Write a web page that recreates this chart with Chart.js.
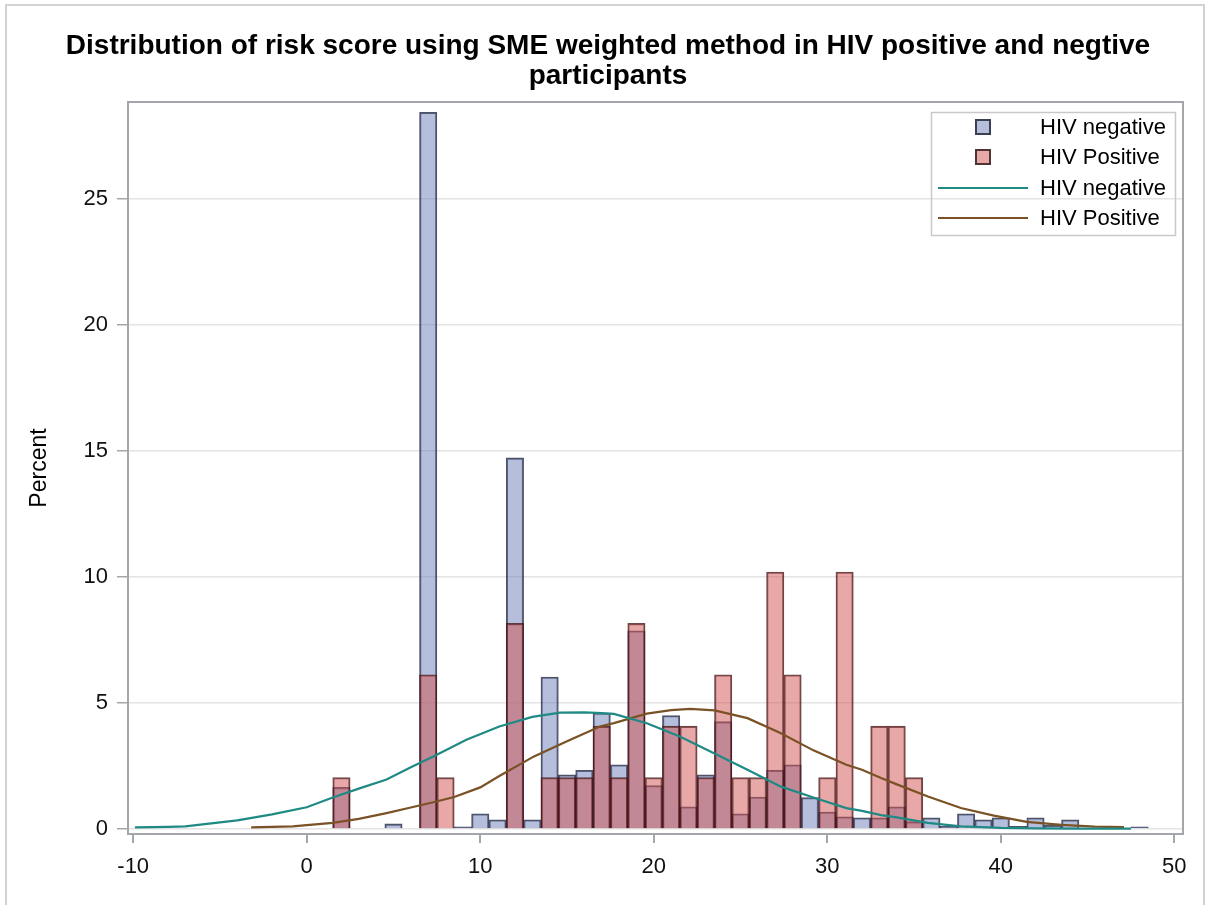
<!DOCTYPE html>
<html><head><meta charset="utf-8">
<script src="https://cdn.jsdelivr.net/npm/chart.js@4.4.1/dist/chart.umd.min.js"></script>
<style>html,body{margin:0;padding:0;background:#fff;}#wrap{position:relative;width:1210px;height:905px;}</style>
</head><body><div id="wrap"><canvas id="c" width="1210" height="905"></canvas></div>
<script>
// ---- data ----
const chartTitle = ['Distribution of risk score using SME weighted method in HIV positive and negtive', 'participants'];
const yAxisTitle = 'Percent';
const xTickValues = [-10, 0, 10, 20, 30, 40, 50];
const yTickValues = [0, 5, 10, 15, 20, 25];
const legendLabels = ['HIV negative', 'HIV Positive', 'HIV negative', 'HIV Positive'];

// histogram bins (score) and percentages
const negBins = [2, 5, 7, 9, 10, 11, 12, 13, 14, 15, 16, 17, 18, 19, 20, 21, 22, 23, 24, 25, 26, 27, 28, 29, 30, 31, 32, 33, 34, 35, 36, 37, 38, 39, 40, 41, 42, 43, 44, 48];
const negPct  = [1.65, 0.2, 28.45, 0.08, 0.6, 0.36, 14.73, 0.36, 6.03, 2.15, 2.33, 4.6, 2.55, 7.87, 1.72, 4.5, 0.88, 2.15, 4.26, 0.6, 1.27, 2.33, 2.55, 1.25, 0.67, 0.48, 0.44, 0.44, 0.88, 0.29, 0.44, 0.1, 0.6, 0.36, 0.44, 0.1, 0.44, 0.15, 0.36, 0.08];
const posBins = [2, 7, 8, 12, 14, 15, 16, 17, 18, 19, 20, 21, 22, 23, 24, 25, 26, 27, 28, 30, 31, 33, 34, 35];
const posPct  = [2.04, 6.12, 2.04, 8.16, 2.04, 2.04, 2.04, 4.08, 2.04, 8.16, 2.04, 4.08, 4.08, 2.04, 6.12, 2.04, 2.04, 10.2, 6.12, 2.04, 10.2, 4.08, 4.08, 2.04];

// fitted density curves
const negCurveX = [-9.9, -8, -7, -6, -4, -2, 0, 1.5, 3, 4.6, 6, 7.3, 9.2, 11.1, 13, 14.6, 16, 17, 17.7, 19.6, 21.5, 23.5, 25.4, 27.3, 29.2, 31.1, 32, 33.1, 34, 35.8, 37.7, 40, 42, 44, 46, 47.5];
const negCurveY = [0.06, 0.08, 0.1, 0.18, 0.34, 0.58, 0.86, 1.25, 1.6, 1.96, 2.45, 2.88, 3.54, 4.07, 4.45, 4.62, 4.63, 4.6, 4.57, 4.2, 3.67, 3.0, 2.35, 1.69, 1.25, 0.83, 0.72, 0.55, 0.46, 0.24, 0.1, 0.04, 0.02, 0.01, 0.01, 0.01];
const posCurveX = [-3.2, -0.8, 0, 1.5, 3, 4.6, 6, 7.3, 8.5, 10, 11.1, 13.1, 15, 16.9, 17.7, 19.6, 21, 22.1, 23.5, 25.4, 27.3, 29.2, 31.1, 32, 33.1, 33.9, 35.8, 37.7, 39.6, 41.5, 43.5, 45.4, 47.1];
const posCurveY = [0.06, 0.1, 0.15, 0.24, 0.4, 0.63, 0.85, 1.06, 1.27, 1.65, 2.1, 2.88, 3.48, 4.07, 4.2, 4.58, 4.72, 4.77, 4.71, 4.4, 3.81, 3.12, 2.55, 2.35, 2.02, 1.8, 1.29, 0.83, 0.53, 0.28, 0.16, 0.09, 0.07];

// ---- styles ----
const FONT = "'Liberation Sans', Arial, sans-serif";
const negFill = 'rgba(107,125,183,0.5)';
const posFill = 'rgba(209,81,81,0.5)';
const negEdge = 'rgba(30,34,60,0.78)';
const posEdge = 'rgba(65,20,20,0.78)';
const negLine = '#1f8a84';
const posLine = '#7a5225';
const axisGrey = '#a3a7ab';

const pts = (xs, ys) => xs.map((x, i) => ({x: x, y: ys[i]}));

const framePlugin = {
  id: 'frame',
  beforeDraw(chart) {
    const ctx = chart.ctx;
    ctx.save();
    ctx.fillStyle = '#fff';
    ctx.fillRect(0, 0, chart.width, chart.height);
    ctx.strokeStyle = '#d2d2d2';
    ctx.lineWidth = 2;
    ctx.strokeRect(6, 5, 1198, 910);
    ctx.restore();
  },
  afterDraw(chart) {
    const a = chart.chartArea, ctx = chart.ctx;
    ctx.save();
    ctx.strokeStyle = axisGrey;
    ctx.lineWidth = 2;
    ctx.strokeRect(a.left, a.top, a.right - a.left, a.bottom - a.top);
    // legend
    const bx = 931, by = 112, bw = 244, bh = 123;
    ctx.strokeStyle = '#c9c9c9';
    ctx.lineWidth = 1.5;
    ctx.strokeRect(bx + 0.5, by + 0.5, bw, bh);
    const rows = [127, 157, 188, 218];
    ctx.font = '22px ' + FONT;
    ctx.textBaseline = 'middle';
    ctx.textAlign = 'left';
    const fills = ['rgb(181,190,219)', 'rgb(232,168,168)'];
    const edges = ['#3c4054', '#4e3434'];
    for (let i = 0; i < 4; i++) {
      const y = rows[i];
      if (i < 2) {
        ctx.fillStyle = fills[i];
        ctx.fillRect(976, y - 7, 14, 14);
        ctx.strokeStyle = edges[i];
        ctx.lineWidth = 2;
        ctx.strokeRect(976, y - 7, 14, 14);
      } else {
        ctx.strokeStyle = i === 2 ? negLine : posLine;
        ctx.lineWidth = 2;
        ctx.beginPath();
        ctx.moveTo(938, y);
        ctx.lineTo(1028, y);
        ctx.stroke();
      }
      ctx.fillStyle = '#000';
      ctx.fillText(legendLabels[i], 1040, y + 1);
    }
    ctx.restore();
  }
};

new Chart(document.getElementById('c'), {
  type: 'bar',
  data: {
    datasets: [
      {type: 'line', label: legendLabels[2], data: pts(negCurveX, negCurveY), borderColor: negLine, borderWidth: 2.2, pointRadius: 0, tension: 0, fill: false, order: 0},
      {type: 'line', label: legendLabels[3], data: pts(posCurveX, posCurveY), borderColor: posLine, borderWidth: 2.2, pointRadius: 0, tension: 0, fill: false, order: 0},
      {label: legendLabels[1], data: pts(posBins, posPct), backgroundColor: posFill, borderColor: posEdge, borderWidth: 1.4, grouped: false, barPercentage: 1, categoryPercentage: 1, order: 1},
      {label: legendLabels[0], data: pts(negBins, negPct), backgroundColor: negFill, borderColor: negEdge, borderWidth: 1.4, grouped: false, barPercentage: 1, categoryPercentage: 1, order: 2}
    ]
  },
  options: {
    responsive: false,
    animation: false,
    devicePixelRatio: 1,
    layout: {padding: {left: 33, right: 27, top: 0, bottom: 1}},
    plugins: {
      legend: {display: false},
      tooltip: {enabled: false},
      title: {
        display: true,
        text: chartTitle,
        color: '#000',
        font: {family: FONT, size: 28, weight: 'bold', lineHeight: '30px'},
        padding: {top: 31, bottom: 11}
      }
    },
    scales: {
      x: {
        type: 'linear',
        min: -10.3,
        max: 50.5,
        offset: false,
        afterBuildTicks: s => { s.ticks = xTickValues.map(v => ({value: v})); },
        afterFit: s => { s.height = 70; },
        grid: {display: true, drawOnChartArea: false, drawTicks: true, tickLength: 9, color: axisGrey, tickColor: axisGrey, lineWidth: 2, offset: false},
        border: {display: true, color: axisGrey, width: 2},
        ticks: {color: '#111', font: {family: FONT, size: 22}, padding: 11, maxRotation: 0, autoSkip: false}
      },
      y: {
        type: 'linear',
        min: -0.2,
        max: 28.86,
        afterBuildTicks: s => { s.ticks = yTickValues.map(v => ({value: v})); },
        afterFit: s => { s.width = 95; },
        grid: {display: true, drawOnChartArea: true, drawTicks: true, tickLength: 11, color: '#e4e4e4', tickColor: axisGrey, lineWidth: 1.5},
        border: {display: true, color: axisGrey, width: 2},
        ticks: {color: '#111', font: {family: FONT, size: 22}, padding: 9, autoSkip: false},
        title: {display: true, text: yAxisTitle, color: '#000', font: {family: FONT, size: 23, lineHeight: 1}, padding: {top: -4.5, bottom: 0}}
      }
    }
  },
  plugins: [framePlugin]
});
</script>
</body></html>
